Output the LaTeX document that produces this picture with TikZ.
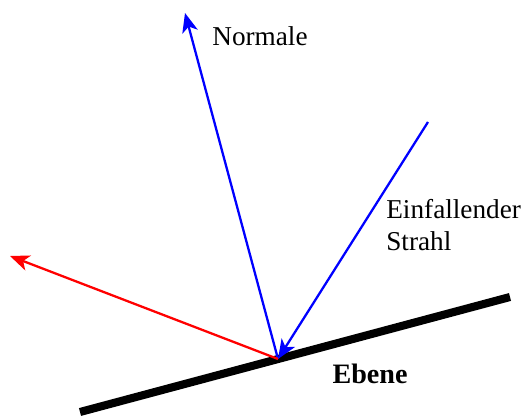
\documentclass[tikz,border=0pt]{standalone}
\usepackage{fontspec}
\setmainfont{Liberation Serif}
\usetikzlibrary{arrows.meta}

\begin{document}
\begin{tikzpicture}[x=0.02cm, y=-0.02cm, >={Stealth[length=11pt, width=9pt, inset=3pt]},
    strahl/.style={line width=1.3pt, ->},
    beschriftung/.style={font=\fontsize{15.5}{18}\selectfont, inner sep=0pt, align=left}]
        % Rahmen
        \useasboundingbox (0,0) rectangle (524,418);

        % Punkte
        \coordinate (P) at (278,359);
        \coordinate (A) at (80,412);
        \coordinate (B) at (510,297);
        \coordinate (N) at (185,13);
        \coordinate (Q) at (428,122);
        \coordinate (R) at (10,256);

        % Ebene
        \draw[line width=4.6pt, black] (A) -- (B);
        \node[beschriftung, font=\fontsize{16}{18}\selectfont\bfseries] (ebene) at (370,374) {Ebene};

        % Normale, einfallender und reflektierter Strahl
        \draw[strahl, blue] (P) -- (N);
        \draw[strahl, blue] (Q) -- (P);
        \draw[strahl, red] (P) -- (R);

        % Beschriftungen
        \node[beschriftung, anchor=west] (normale) at (212,36) {Normale};
        \node[beschriftung, anchor=north west] (einfall) at (386,199) {Einfallender\\Strahl};
    \end{tikzpicture}
\end{document}
